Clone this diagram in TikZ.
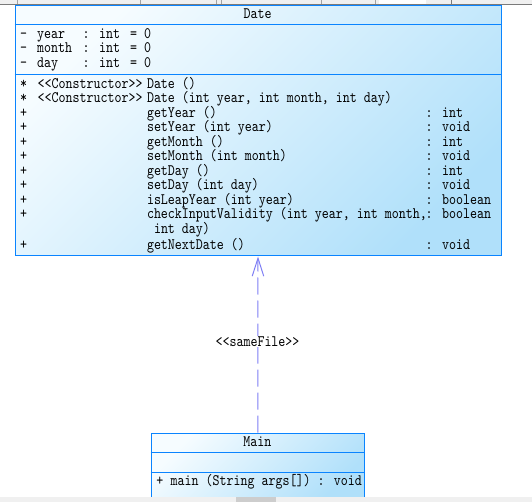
\documentclass[tikz,border=0pt]{standalone}
\usepackage{fontspec}
\usetikzlibrary{arrows.meta}
\newfontfamily\umlfont{lmmono10-regular.otf}[FakeStretch=0.833]
\definecolor{umlborder}{HTML}{0A84FF}
\definecolor{umlA}{HTML}{F6FCFF}
\definecolor{umlB}{HTML}{B0E0FA}
\definecolor{conncol}{HTML}{7F7FF5}
\definecolor{barbg}{HTML}{F0F0F0}
\definecolor{barline}{HTML}{7A7A7A}
\definecolor{thumb}{HTML}{CDCDCD}
\begin{document}
\begin{tikzpicture}[x=1pt,y=-1pt,
  umltext/.style={font=\umlfont\fontsize{16}{17}\selectfont, inner sep=0pt, anchor=mid west, text=black, yshift=-1.2pt},
  umlbox/.style={draw=umlborder, line width=1pt, shading=axis, top color=umlA, bottom color=umlB, shading angle=45, inner sep=0pt, anchor=north west},
  sep/.style={draw=umlborder, line width=1pt},
  conn/.style={draw=conncol, line width=1pt, dash pattern=on 17pt off 6pt},
  tick/.style={draw=barline!70, line width=0.8pt}]
\useasboundingbox (0,0) rectangle (532,502);
\fill[white] (0,0) rectangle (532,502);

% Date class
\node[umlbox, minimum width=486pt, minimum height=250.5pt] (date) at (14.5,5) {};
\draw[sep] (14.5,25) -- (500.5,25);
\draw[sep] (14.5,74.5) -- (500.5,74.5);
\node[umltext, anchor=mid] (datetitle) at (257.5,15) {Date};

\node[umltext] (a1v) at (20,35) {-};
\node[umltext] (a1n) at (37,35) {year};
\node[umltext] (a1t) at (82.5,35) {: int};
\node[umltext] (a1d) at (130,35) {= 0};
\node[umltext] (a2v) at (20,49.5) {-};
\node[umltext] (a2n) at (37,49.5) {month};
\node[umltext] (a2t) at (82.5,49.5) {: int};
\node[umltext] (a2d) at (130,49.5) {= 0};
\node[umltext] (a3v) at (20,64) {-};
\node[umltext] (a3n) at (37,64) {day};
\node[umltext] (a3t) at (82.5,64) {: int};
\node[umltext] (a3d) at (130,64) {= 0};

\node[umltext] (m1v) at (20,85) {*};
\node[umltext] (m1s) at (37.5,85) {<<Constructor>>};
\node[umltext] (m1n) at (146.8,85) {Date ()};
\node[umltext] (m2v) at (20,99.5) {*};
\node[umltext] (m2s) at (37.5,99.5) {<<Constructor>>};
\node[umltext] (m2n) at (146.8,99.5) {Date (int year, int month, int day)};
\node[umltext] (m3v) at (20,114) {+};
\node[umltext] (m3n) at (146.8,114) {getYear ()};
\node[umltext] (m3r) at (425.5,114) {: int};
\node[umltext] (m4v) at (20,128.5) {+};
\node[umltext] (m4n) at (146.8,128.5) {setYear (int year)};
\node[umltext] (m4r) at (425.5,128.5) {: void};
\node[umltext] (m5v) at (20,143) {+};
\node[umltext] (m5n) at (146.8,143) {getMonth ()};
\node[umltext] (m5r) at (425.5,143) {: int};
\node[umltext] (m6v) at (20,157.5) {+};
\node[umltext] (m6n) at (146.8,157.5) {setMonth (int month)};
\node[umltext] (m6r) at (425.5,157.5) {: void};
\node[umltext] (m7v) at (20,172) {+};
\node[umltext] (m7n) at (146.8,172) {getDay ()};
\node[umltext] (m7r) at (425.5,172) {: int};
\node[umltext] (m8v) at (20,186.5) {+};
\node[umltext] (m8n) at (146.8,186.5) {setDay (int day)};
\node[umltext] (m8r) at (425.5,186.5) {: void};
\node[umltext] (m9v) at (20,201) {+};
\node[umltext] (m9n) at (146.8,201) {isLeapYear (int year)};
\node[umltext] (m9r) at (425.5,201) {: boolean};
\node[umltext] (m10v) at (20,215.5) {+};
\node[umltext] (m10n) at (146.8,215.5) {checkInputValidity (int year, int month,};
\node[umltext] (m10r) at (425.5,215.5) {: boolean};
\node[umltext] (m10w) at (153.8,230) {int day)};
\node[umltext] (m11v) at (20,246) {+};
\node[umltext] (m11n) at (146.8,246) {getNextDate ()};
\node[umltext] (m11r) at (425.5,246) {: void};

% Main class
\node[umlbox, minimum width=213.5pt, minimum height=66pt] (main) at (150.5,432.5) {};
\draw[sep] (150.5,452.5) -- (364,452.5);
\draw[sep] (150.5,472.5) -- (364,472.5);
\node[umltext, anchor=mid] (maintitle) at (257.25,443.3) {Main};
\node[umltext] (mmv) at (156.2,482.3) {+};
\node[umltext] (mmn) at (170.5,482.3) {main (String args[]) : void};

% dependency
\draw[conn, -{Straight Barb[length=18pt, width=11.5pt, line width=1pt]}] (main.north) -- (date.south);
\node[umltext, anchor=mid, fill=white, inner sep=1pt] (dep) at (257.5,343) {<<sameFile>>};

% window chrome: top strip
\fill[barbg] (0,0) rectangle (532,4.3);
\fill[white] (378.5,0) rectangle (426,3.6);
\draw[barline, line width=1pt] (0,4.8) -- (532,4.8);
\foreach \tx in {17,140.5,216.5,221,321,375} { \draw[tick] (\tx,0) -- (\tx,3.8); }
\draw[barline, line width=0.8pt] (451.5,0) -- (451.5,4.3);
% bottom scrollbar
\fill[barbg] (0,497) rectangle (532,502);
\fill[thumb] (235.7,497) rectangle (276,502);
\end{tikzpicture}
\end{document}
